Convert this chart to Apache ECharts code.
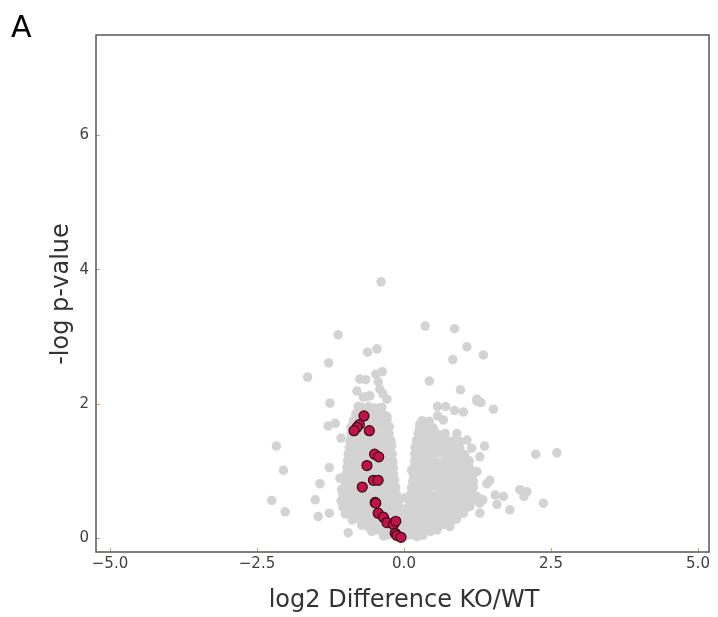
<!DOCTYPE html>
<html>
<head>
<meta charset="utf-8">
<script src="https://cdn.jsdelivr.net/npm/echarts@6/dist/echarts.min.js"></script>
<style>
  html, body { margin: 0; padding: 0; background: #fff; }
  #chart { width: 718px; height: 617px; }
</style>
</head>
<body>
<div id="chart"></div>
<script>
// x tick labels and y tick labels
var xTicks = [-5, -2.5, 0, 2.5, 5];
var yTicks = [0, 2, 4, 6];

// dense cloud, left wing (log2 diff, -log p)
var leftCloud = [
    [-0.35,0.03],[-0.26,0.05],[-0.15,0.02],[-0.07,0.04],
    [-0.55,0.10],[-0.45,0.12],[-0.33,0.09],[-0.22,0.11],[-0.11,0.10],[-0.03,0.08],
    [-0.72,0.19],[-0.61,0.17],[-0.50,0.20],[-0.39,0.18],[-0.27,0.16],[-0.16,0.19],[-0.05,0.17],
    [-0.88,0.27],[-0.77,0.29],[-0.66,0.26],[-0.55,0.28],[-0.44,0.27],[-0.32,0.25],[-0.21,0.28],[-0.10,0.26],[-0.02,0.29],
    [-1.00,0.36],[-0.90,0.38],[-0.79,0.35],[-0.68,0.37],[-0.56,0.36],[-0.45,0.34],[-0.34,0.38],[-0.23,0.36],[-0.13,0.35],[-0.04,0.37],
    [-1.04,0.46],[-0.94,0.44],[-0.83,0.47],[-0.72,0.45],[-0.61,0.46],[-0.50,0.44],[-0.39,0.47],[-0.28,0.45],[-0.17,0.46],[-0.06,0.44],
    [-1.07,0.55],[-0.96,0.57],[-0.85,0.54],[-0.73,0.56],[-0.62,0.55],[-0.51,0.57],[-0.39,0.54],[-0.28,0.56],[-0.18,0.55],[-0.08,0.56],
    [-1.04,0.65],[-0.93,0.64],[-0.82,0.66],[-0.70,0.65],[-0.59,0.63],[-0.48,0.66],[-0.36,0.64],[-0.24,0.65],[-0.12,0.64],
    [-1.02,0.75],[-0.91,0.76],[-0.80,0.74],[-0.68,0.75],[-0.57,0.77],[-0.46,0.74],[-0.35,0.76],[-0.24,0.74],[-0.14,0.75],
    [-1.00,0.85],[-0.89,0.84],[-0.78,0.86],[-0.66,0.85],[-0.55,0.84],[-0.44,0.86],[-0.33,0.85],[-0.23,0.84],[-0.16,0.86],
    [-0.99,0.95],[-0.88,0.96],[-0.77,0.94],[-0.66,0.95],[-0.55,0.97],[-0.44,0.95],[-0.34,0.94],[-0.25,0.96],[-0.18,0.95],
    [-0.97,1.05],[-0.86,1.06],[-0.75,1.04],[-0.64,1.05],[-0.53,1.07],[-0.42,1.04],[-0.32,1.06],[-0.25,1.05],[-0.18,1.04],
    [-0.96,1.15],[-0.85,1.14],[-0.74,1.16],[-0.63,1.15],[-0.52,1.13],[-0.41,1.16],[-0.30,1.15],[-0.19,1.14],
    [-0.95,1.25],[-0.84,1.26],[-0.73,1.24],[-0.62,1.25],[-0.51,1.27],[-0.40,1.24],[-0.30,1.26],[-0.20,1.25],
    [-0.93,1.35],[-0.82,1.34],[-0.71,1.36],[-0.60,1.35],[-0.49,1.34],[-0.39,1.36],[-0.30,1.35],[-0.21,1.37],
    [-0.92,1.45],[-0.81,1.46],[-0.70,1.44],[-0.59,1.45],[-0.48,1.47],[-0.37,1.44],[-0.28,1.46],[-0.22,1.45],
    [-0.90,1.55],[-0.79,1.54],[-0.68,1.56],[-0.57,1.55],[-0.46,1.54],[-0.35,1.56],[-0.25,1.55],
    [-0.90,1.65],[-0.78,1.66],[-0.67,1.64],[-0.55,1.65],[-0.44,1.67],[-0.33,1.64],[-0.25,1.66],
    [-0.86,1.75],[-0.74,1.74],[-0.63,1.76],[-0.51,1.75],[-0.40,1.74],[-0.29,1.76],
    [-0.82,1.85],[-0.70,1.84],[-0.58,1.86],[-0.47,1.85],[-0.35,1.84],
    [-0.72,1.95],[-0.60,1.96],[-0.49,1.94],[-0.38,1.95]
];

// dense cloud, right wing
var rightCloud = [
    [0.03,0.03],[0.12,0.05],[0.22,0.02],[0.32,0.04],
    [0.02,0.10],[0.12,0.12],[0.23,0.09],[0.34,0.11],[0.45,0.10],[0.56,0.12],
    [0.03,0.19],[0.14,0.17],[0.25,0.20],[0.36,0.18],[0.47,0.19],[0.58,0.17],[0.69,0.20],
    [0.04,0.27],[0.15,0.29],[0.26,0.26],[0.37,0.28],[0.48,0.27],[0.59,0.25],[0.70,0.28],[0.81,0.26],[0.89,0.28],
    [0.05,0.36],[0.15,0.38],[0.26,0.35],[0.37,0.37],[0.48,0.36],[0.59,0.34],[0.70,0.38],[0.81,0.36],[0.92,0.35],[1.01,0.37],
    [0.07,0.46],[0.17,0.44],[0.27,0.47],[0.38,0.45],[0.49,0.46],[0.60,0.44],[0.71,0.47],[0.82,0.45],[0.93,0.46],[1.04,0.44],[1.12,0.47],
    [0.09,0.55],[0.19,0.57],[0.29,0.54],[0.39,0.56],[0.50,0.55],[0.61,0.57],[0.72,0.54],[0.83,0.56],[0.94,0.55],[1.05,0.57],[1.15,0.55],
    [0.11,0.65],[0.21,0.64],[0.31,0.66],[0.41,0.65],[0.52,0.63],[0.63,0.66],[0.74,0.64],[0.85,0.65],[0.95,0.67],[1.06,0.64],[1.16,0.66],
    [0.13,0.75],[0.23,0.76],[0.33,0.74],[0.43,0.75],[0.54,0.77],[0.65,0.74],[0.76,0.76],[0.87,0.74],[0.97,0.75],[1.08,0.77],[1.18,0.75],
    [0.15,0.85],[0.25,0.84],[0.35,0.86],[0.45,0.85],[0.56,0.84],[0.67,0.86],[0.78,0.85],[0.89,0.84],[0.99,0.86],[1.09,0.85],[1.18,0.84],
    [0.16,0.95],[0.26,0.96],[0.36,0.94],[0.47,0.95],[0.58,0.97],[0.69,0.95],[0.80,0.94],[0.90,0.96],[1.00,0.95],[1.10,0.94],[1.19,0.96],
    [0.17,1.05],[0.27,1.06],[0.38,1.04],[0.49,1.05],[0.60,1.07],[0.71,1.04],[0.82,1.06],[0.92,1.05],[1.02,1.04],[1.11,1.06],
    [0.18,1.15],[0.28,1.14],[0.39,1.16],[0.50,1.15],[0.61,1.13],[0.72,1.16],[0.83,1.15],[0.93,1.14],[1.03,1.16],[1.11,1.15],
    [0.18,1.25],[0.29,1.26],[0.40,1.24],[0.51,1.25],[0.62,1.27],[0.73,1.24],[0.84,1.26],[0.94,1.25],[1.03,1.24],
    [0.19,1.35],[0.30,1.34],[0.41,1.36],[0.52,1.35],[0.63,1.34],[0.74,1.36],[0.85,1.35],[0.95,1.34],
    [0.21,1.45],[0.32,1.46],[0.43,1.44],[0.54,1.45],[0.65,1.47],[0.76,1.44],[0.86,1.46],
    [0.24,1.55],[0.35,1.54],[0.46,1.56],[0.57,1.55],[0.68,1.54],
    [0.27,1.65],[0.39,1.66],[0.50,1.64],
    [0.31,1.75],[0.43,1.74]
];

// scattered proteins outside the dense cloud
var outliers = [
    [-0.39,3.82],[-1.12,3.03],[-1.28,2.61],[-0.62,2.77],[-0.46,2.82],[-1.64,2.40],
    [-0.75,2.37],[-0.65,2.36],[-0.48,2.44],[-0.37,2.48],[-0.44,2.33],[-0.80,2.19],
    [-0.41,2.22],[-0.36,2.15],[-0.69,2.10],[-0.58,2.12],[-0.29,2.07],[-0.63,2.11],
    [-1.26,2.01],[-0.78,1.96],[-0.41,1.91],[-0.29,1.81],[-1.17,1.71],[-1.29,1.67],
    [-1.07,1.49],[-2.17,1.37],[-2.05,1.01],[-1.27,1.05],[-1.43,0.81],[-2.25,0.56],
    [-2.02,0.39],[-1.51,0.57],[-1.46,0.32],[-1.27,0.37],[-0.95,0.08],[-1.09,0.89],
    [-1.06,0.72],
    [0.36,3.16],[0.86,3.12],[1.07,2.85],[1.35,2.73],[0.83,2.66],[0.43,2.34],
    [0.96,2.21],[1.24,2.07],[0.57,1.96],[0.71,1.96],[1.24,2.04],[1.31,2.02],
    [1.52,1.92],[0.86,1.90],[1.01,1.88],[0.57,1.82],[0.67,1.76],[0.27,1.70],
    [0.41,1.66],[0.26,1.60],[0.47,1.52],[0.70,1.56],[0.90,1.56],[0.33,1.49],
    [0.61,1.41],[0.95,1.44],[1.07,1.46],[1.15,1.34],[1.37,1.37],[0.78,1.36],
    [1.29,1.21],[2.24,1.25],[2.60,1.27],[0.13,1.01],[1.24,0.99],[1.46,0.86],
    [1.41,0.81],[1.15,0.82],[1.97,0.72],[2.09,0.69],[2.04,0.62],[1.55,0.64],
    [1.69,0.62],[1.58,0.50],[1.80,0.42],[2.37,0.52],[1.24,0.62],[1.29,0.52],
    [1.29,0.37],[1.34,0.57],[0.78,0.17],[0.02,0.60]
];

// highlighted proteins
var highlighted = [
    [-0.68,1.82],[-0.76,1.69],[-0.80,1.65],[-0.85,1.60],[-0.59,1.60],
    [-0.50,1.25],[-0.43,1.21],[-0.63,1.08],[-0.52,0.86],[-0.44,0.86],
    [-0.71,0.76],[-0.49,0.53],[-0.48,0.52],[-0.44,0.37],[-0.35,0.31],
    [-0.29,0.23],[-0.18,0.20],[-0.14,0.25],[-0.15,0.07],[-0.12,0.04],
    [-0.05,0.01]
];

var myChart = echarts.init(document.getElementById('chart'));
var font = 'DejaVu Sans';
var option = {
    animation: false,
    grid: {left: 110, right: 20, top: 35, bottom: 79},
    xAxis: {
        type: 'value',
        min: xTicks[0],
        max: xTicks[xTicks.length - 1],
        interval: 2.5,
        offset: 14,
        axisLine: {show: false, onZero: false},
        axisTick: {show: true, inside: true, length: 4, lineStyle: {color: '#c9a27e'}},
        splitLine: {show: false},
        axisLabel: {
            margin: 5,
            color: '#404040',
            fontFamily: font,
            fontSize: 15,
            formatter: function (v) {
                return (v < 0 ? '\u2212' : '') + Math.abs(v).toFixed(1);
            }
        }
    },
    yAxis: {
        type: 'value',
        min: yTicks[0],
        max: 7.5,
        interval: 2,
        offset: 14,
        axisLine: {show: false, onZero: false},
        axisTick: {show: true, inside: true, length: 4, lineStyle: {color: '#c9a27e'}},
        splitLine: {show: false},
        axisLabel: {
            margin: 7,
            color: '#404040',
            fontFamily: font,
            fontSize: 15,
            showMaxLabel: false
        }
    },
    graphic: [
        {
            type: 'rect',
            shape: {x: 96, y: 35, width: 613, height: 517},
            style: {fill: 'none', stroke: '#555', lineWidth: 1.5},
            z: 100
        },
        {
            type: 'text', x: 11, y: 29,
            style: {text: 'A', font: '30px "DejaVu Sans"', fill: '#000', align: 'left', verticalAlign: 'middle'}
        },
        {
            type: 'text', x: 404, y: 601,
            style: {text: 'log2 Difference KO/WT', font: '24px "DejaVu Sans"', fill: '#333', align: 'center', verticalAlign: 'middle'}
        },
        {
            type: 'text', x: 62, y: 294, rotation: Math.PI / 2,
            style: {text: '-log p-value', font: '24px "DejaVu Sans"', fill: '#333', align: 'center', verticalAlign: 'middle'}
        }
    ],
    series: [
        {
            type: 'scatter',
            clip: false,
            symbolSize: 9.5,
            itemStyle: {color: '#d3d3d3', opacity: 1},
            data: leftCloud.concat(rightCloud, outliers)
        },
        {
            type: 'scatter',
            clip: false,
            symbolSize: 10,
            itemStyle: {color: '#c2124a', borderColor: '#3a0a16', borderWidth: 1.2, opacity: 1},
            data: highlighted
        }
    ]
};
myChart.setOption(option);
</script>
</body>
</html>
